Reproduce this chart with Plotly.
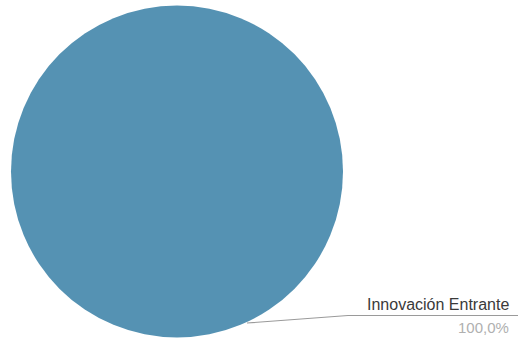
import plotly.graph_objects as go

W, H = 523, 339

labels = ["Innovación Entrante"]
values = [100.0]
colors = ["#5592B3"]

total = sum(values)
pct_text = [f"{v / total * 100:.1f}%".replace(".", ",") for v in values]

def px(x):
    return x / W

def py(y):
    return 1 - y / H

fig = go.Figure(
    go.Pie(
        labels=labels,
        values=values,
        marker=dict(colors=colors, line=dict(width=0)),
        textinfo="none",
        hoverinfo="label+percent",
        sort=False,
        showlegend=False,
        domain=dict(x=[px(11), px(343)], y=[py(338), py(5)]),
    )
)

# leader line
fig.add_shape(
    type="path",
    path=f"M {px(247)},{py(323)} L {px(348)},{py(315.5)} L {px(518)},{py(315.5)}",
    xref="paper", yref="paper",
    line=dict(color="#9a9a9a", width=1.2),
)

fig.add_annotation(
    x=px(511), y=py(304), xref="paper", yref="paper",
    text=labels[0], showarrow=False, xanchor="right", yanchor="middle",
    font=dict(family="Liberation Sans, Arial, sans-serif", size=16, color="#3a3a3a"),
)
fig.add_annotation(
    x=px(511), y=py(327), xref="paper", yref="paper",
    text=pct_text[0], showarrow=False, xanchor="right", yanchor="middle",
    font=dict(family="Liberation Sans, Arial, sans-serif", size=15, color="#b0b0b0"),
)

fig.update_layout(
    width=W, height=H,
    margin=dict(l=0, r=0, t=0, b=0),
    paper_bgcolor="white",
    plot_bgcolor="white",
)

fig.write_html(
    "out.html",
    config={"displayModeBar": False},
    post_script="document.body.style.margin='0';document.body.style.overflow='hidden';",
)
